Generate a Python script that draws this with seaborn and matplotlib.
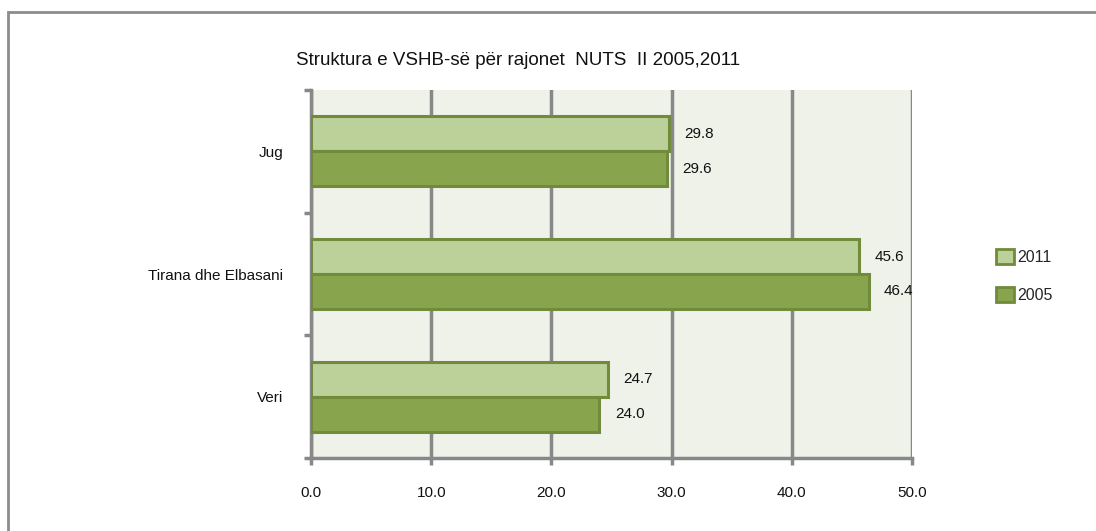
import matplotlib
matplotlib.use("Agg")
import matplotlib.pyplot as plt
import seaborn as sns
import pandas as pd
from matplotlib.patches import Rectangle, Patch
from matplotlib.ticker import FixedLocator

regions = ["Jug", "Tirana dhe Elbasani", "Veri"]
years = ["2011", "2005"]
values_2011 = [29.8, 45.6, 24.7]
values_2005 = [29.6, 46.4, 24.0]
x_ticks = [0, 10, 20, 30, 40, 50]
title = "Struktura e VSHB-së për rajonet  NUTS  II 2005,2011"

df = pd.DataFrame({
    "region": regions * 2,
    "year": ["2011"] * 3 + ["2005"] * 3,
    "value": values_2011 + values_2005,
})

sns.set_theme(style="white")
plt.rcParams['font.family'] = ['Liberation Sans', 'DejaVu Sans']

colors = {"2011": "#BCD09A", "2005": "#88A44C"}
edge = "#6F8B3B"

fig = plt.figure(figsize=(10.96, 5.31), dpi=100)
ax = fig.add_axes([311/1096, 73/531, 601/1096, 368/531])
ax.set_facecolor("#EFF2E9")

sns.barplot(data=df, y="region", x="value", hue="year", order=regions,
            hue_order=years, palette=colors, orient="h", width=0.57,
            edgecolor=edge, linewidth=2.2, saturation=1, ax=ax, legend=False,
            zorder=3)

ax.set_xlim(0, 50)
ax.set_ylim(2.5, -0.5)
ax.set_xticks(x_ticks)
ax.set_xticklabels([f"{v:.1f}" for v in x_ticks], fontsize=11, color="#111111")
ax.set_xlabel("")
ax.set_ylabel("")
ax.tick_params(axis="x", length=5, width=2.5, color="#888888", pad=15, direction="out")
ax.tick_params(axis="y", which="major", length=0, pad=20, labelsize=11, labelcolor="#111111")
ax.yaxis.set_minor_locator(FixedLocator([-0.5, 0.5, 1.5, 2.5]))
ax.tick_params(axis="y", which="minor", length=5, width=2.5, color="#888888", left=True)
ax.tick_params(axis="x", bottom=True)

ax.grid(axis="x", color="#888888", linewidth=2.5, zorder=1)
ax.set_axisbelow(True)
for s in ["top", "right"]:
    ax.spines[s].set_visible(False)
for s in ["left", "bottom"]:
    ax.spines[s].set_color("#888888")
    ax.spines[s].set_linewidth(2.5)

# data labels
for container in ax.containers:
    ax.bar_label(container, fmt="%.1f", padding=11, fontsize=11, color="#111111")

ax.set_title(title, fontsize=13.5, color="#111111", pad=18, x=(518 - 311) / 601)

# outer border
fig.add_artist(Rectangle((8/1096, -0.2), 1.2, 1 - 12/531 + 0.2,
                         transform=fig.transFigure, fill=False,
                         edgecolor="#8C8C8C", linewidth=2))

handles = [Patch(facecolor=colors[y], edgecolor=edge, linewidth=2, label=y) for y in years]
fig.legend(handles=handles, loc="center left", bbox_to_anchor=(982/1096, 1 - 276/531),
           frameon=False, handlelength=1.1, handleheight=1.1, handletextpad=0.2,
           labelspacing=1.35, fontsize=11.5)

fig.savefig("out.png", dpi=100)
